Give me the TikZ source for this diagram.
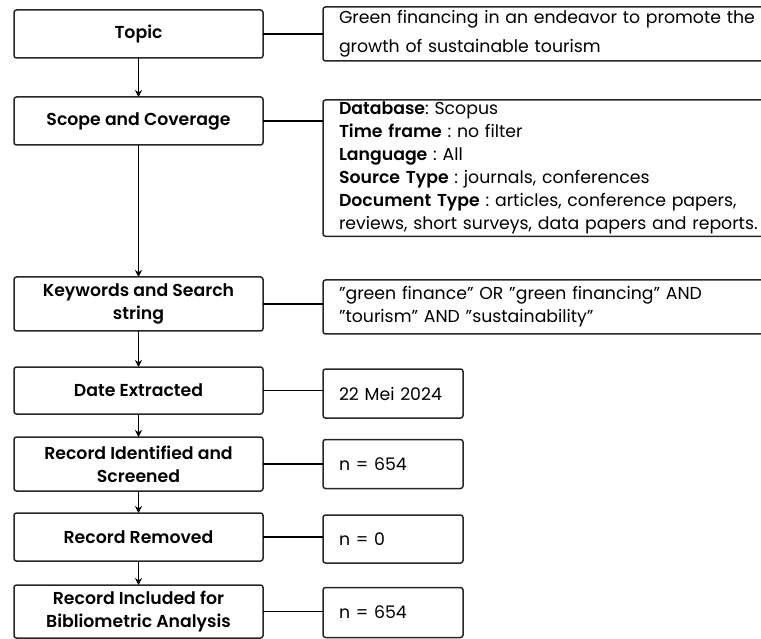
\documentclass[tikz,border=0pt]{standalone}
\usepackage{fontspec}
\setmainfont{Poppins}[BoldFont={Poppins SemiBold}]
\usepackage{tikz}
\usetikzlibrary{shapes,arrows.meta,positioning}
\newcommand{\qt}[1]{\symbol{34}#1\symbol{34}}
\frenchspacing

\begin{document}
\begin{tikzpicture}[
    x=1pt, y=1pt,
    stage/.style={draw=black!85, line width=1.5pt, rounded corners=2.5pt, minimum width=249pt, align=center, inner sep=2pt, outer sep=0pt, font=\fontsize{17.3}{23}\selectfont\bfseries},
    info/.style={draw=black!85, line width=1.5pt, rounded corners=2.5pt, align=left, inner xsep=16pt, inner ysep=2pt, outer sep=0pt, font=\fontsize{17.3}{23}\selectfont},
    wide/.style={text width=428pt},
    short/.style={text width=108pt},
    link/.style={line width=1.5pt},
    arrow/.style={line width=1.5pt,->,>={Stealth[length=7pt,width=7pt]}}
]
    \useasboundingbox (0,0) rectangle (761,-639);

    % steps on the left
    \node (topic) [stage, minimum height=48pt] at (138.5,-34) {Topic};
    \node (scope) [stage, minimum height=48pt, below=39pt of topic] {Scope and Coverage};
    \node (keys) [stage, minimum height=54pt, below=132pt of scope] {Keywords and Search\\string};
    \node (date) [stage, minimum height=47pt, below=36pt of keys] {Date Extracted};
    \node (ident) [stage, minimum height=54pt, below=23pt of date] {Record Identified and\\Screened};
    \node (removed) [stage, minimum height=48pt, below=22pt of ident] {Record Removed};
    \node (incl) [stage, minimum height=53pt, below=24pt of removed] {Record Included for\\Bibliometric Analysis};

    % details on the right
    \node (topicinfo) [info, wide, minimum height=54pt, right=60pt of topic] {Green financing in an endeavor to promote the\\[6pt]growth of sustainable tourism};
    \node (scopeinfo) [info, wide, minimum height=136pt, right=60pt of scope.north east, anchor=north west, yshift=-3pt] {\textbf{Database}: Scopus\\
        \textbf{Time frame} : no filter\\
        \textbf{Language} : All\\
        \textbf{Source Type} : journals, conferences\\
        \textbf{Document Type} : articles, conference papers,\\
        reviews, short surveys, data papers and reports.};
    \node (keysinfo) [info, wide, minimum height=54pt, right=60pt of keys, yshift=-3pt] {\qt{green finance} OR \qt{green financing} AND\\\qt{tourism} AND \qt{sustainability}};
    \node (dateinfo) [info, short, minimum height=49pt, right=60pt of date, yshift=-3pt] {22 Mei 2024};
    \node (identinfo) [info, short, minimum height=49pt, right=60pt of ident] {n = 654};
    \node (removedinfo) [info, short, minimum height=48pt, right=60pt of removed, yshift=-2pt] {n = 0};
    \node (inclinfo) [info, short, minimum height=50pt, right=60pt of incl, yshift=-1pt] {n = 654};

    \draw [arrow] (topic) -- (scope);
    \draw [arrow] (scope) -- (keys);
    \draw [arrow] (keys) -- (date);
    \draw [arrow] (date) -- (ident);
    \draw [arrow] (ident) -- (removed);
    \draw [arrow] (removed) -- (incl);

    \draw [link] (topic.east) -- (topic.east -| topicinfo.west);
    \draw [link] (scope.east) -- (scope.east -| scopeinfo.west);
    \draw [link] (keys.east) -- (keys.east -| keysinfo.west);
    \draw [link] (date.east) -- (date.east -| dateinfo.west);
    \draw [link] (ident.east) -- (ident.east -| identinfo.west);
    \draw [link] (removed.east) -- (removed.east -| removedinfo.west);
    \draw [link] (incl.east) -- (incl.east -| inclinfo.west);
\end{tikzpicture}
\end{document}
